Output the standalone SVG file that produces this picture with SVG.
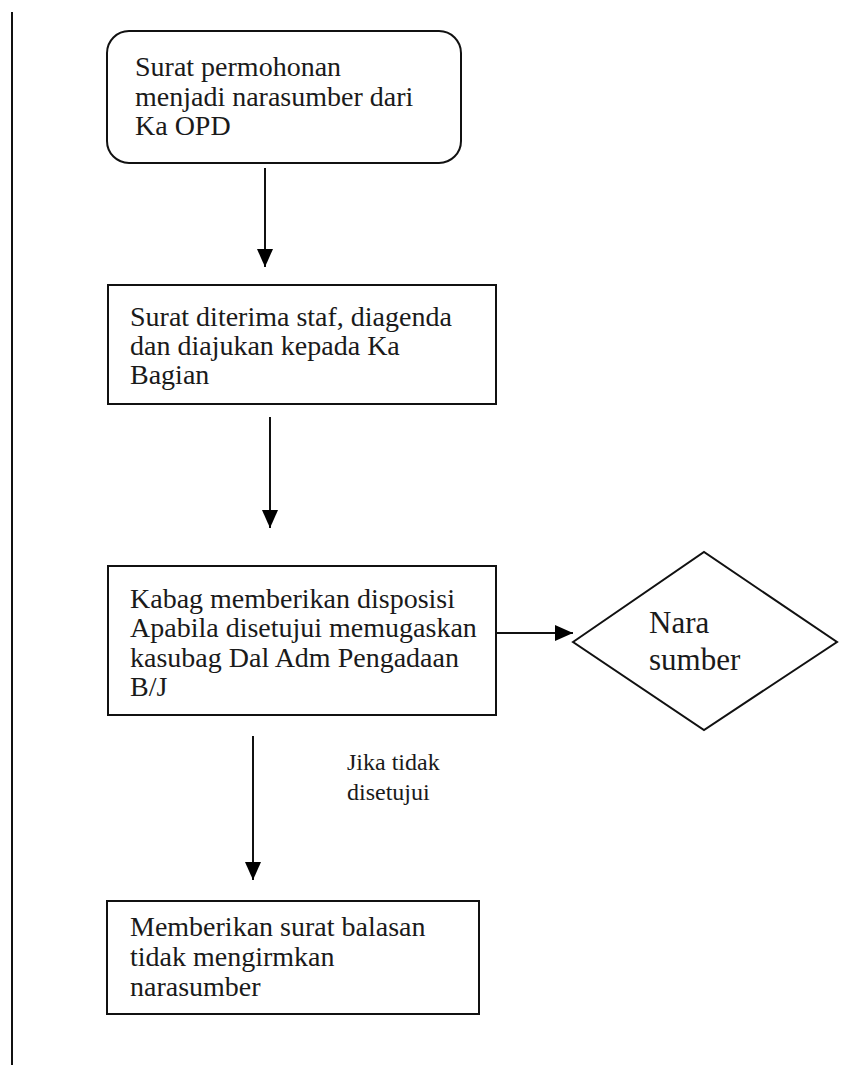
<svg xmlns="http://www.w3.org/2000/svg" width="860" height="1065" viewBox="0 0 860 1065">
<style>
.box{fill:#fff;stroke:#111;stroke-width:2}
.t{font-family:"Liberation Serif","Times New Roman",serif;font-size:28px;fill:#1a1a1a}
.big{font-size:31px}
.small{font-size:24px}
.conn{stroke:#111;stroke-width:2;fill:none}
</style>
<defs>
<marker id="arr" markerUnits="userSpaceOnUse" markerWidth="18" markerHeight="16" refX="18" refY="8" orient="auto">
<path d="M0,0 L18,8 L0,16 z" fill="#000"/>
</marker>
</defs>
<rect x="0" y="0" width="860" height="1065" fill="#fff"/>
<line x1="12" y1="12" x2="12" y2="1065" stroke="#111" stroke-width="2"/>
<g id="connectors">
<line class="conn" x1="265" y1="168" x2="265" y2="267" marker-end="url(#arr)"/>
<line class="conn" x1="270" y1="417" x2="270" y2="528" marker-end="url(#arr)"/>
<line class="conn" x1="497" y1="633" x2="573" y2="633" marker-end="url(#arr)"/>
<line class="conn" x1="253" y1="736" x2="253" y2="880" marker-end="url(#arr)"/>
<text class="t small" x="347" y="770">Jika tidak</text>
<text class="t small" x="347" y="800">disetujui</text>
</g>
<g id="node1">
<rect class="box" x="107" y="31" width="354" height="132" rx="22" ry="22"/>
<text class="t" x="135" y="76">Surat permohonan</text>
<text class="t" x="135" y="105.5">menjadi narasumber dari</text>
<text class="t" x="135" y="135">Ka OPD</text>
</g>
<g id="node2">
<rect class="box" x="108" y="285" width="388" height="119"/>
<text class="t" x="130" y="326">Surat diterima staf, diagenda</text>
<text class="t" x="130" y="355">dan diajukan kepada Ka</text>
<text class="t" x="130" y="384">Bagian</text>
</g>
<g id="node3">
<rect class="box" x="108" y="566" width="388" height="149"/>
<text class="t" x="130" y="608">Kabag memberikan disposisi</text>
<text class="t" x="130" y="637">Apabila disetujui memugaskan</text>
<text class="t" x="130" y="667">kasubag Dal Adm Pengadaan</text>
<text class="t" x="130" y="696">B/J</text>
</g>
<g id="node4">
<polygon class="box" points="573,642 704,552 837,642 704,730"/>
<text class="t big" x="649" y="633">Nara</text>
<text class="t big" x="649" y="670">sumber</text>
</g>
<g id="node5">
<rect class="box" x="107" y="901" width="372" height="113"/>
<text class="t" x="130" y="936">Memberikan surat balasan</text>
<text class="t" x="130" y="966">tidak mengirmkan</text>
<text class="t" x="130" y="996">narasumber</text>
</g>
</svg>
